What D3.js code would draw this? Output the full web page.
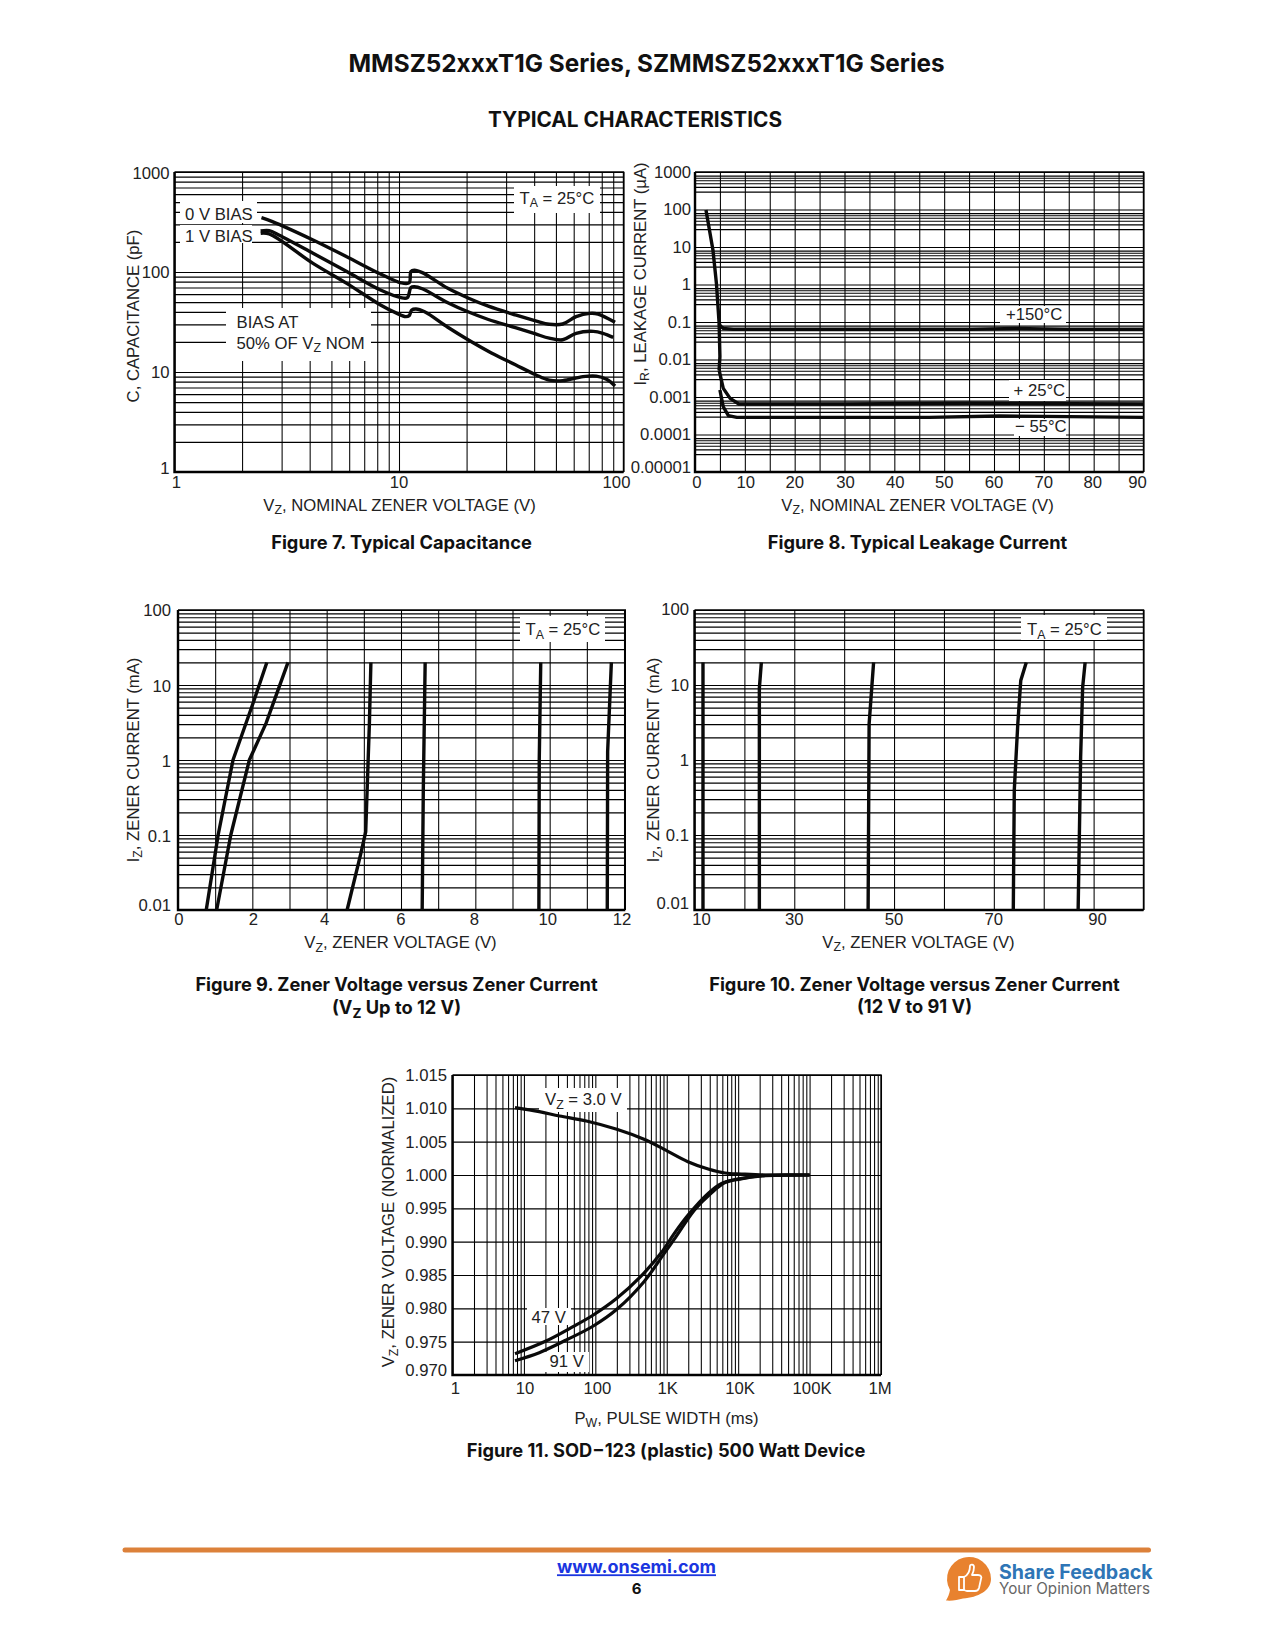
<!DOCTYPE html>
<html><head><meta charset="utf-8">
<script src="https://cdnjs.cloudflare.com/ajax/libs/d3/7.8.5/d3.min.js"></script>
<style>html,body{margin:0;background:#fff}svg{display:block}text{font-family:"Liberation Sans",Arial,sans-serif;fill:#222}.h{font-family:Inter,"Liberation Sans",sans-serif;font-weight:700;fill:#111}</style>
</head><body><svg id="c" width="1275" height="1650" xmlns="http://www.w3.org/2000/svg"></svg>
<script>
// ---- Figure 7: V (volts), C (pF)
const fig7V0x=[2.44,2.73,4.14,5.85,8.27,10.2,11.1,11.3,11.7,12.7,16.5,20.3,25,33,40.6,46.7,53.6,61.5,70.8,77,91.7];
const fig7V0y=[349,319,209,142,95.5,78,78,101,104,98.5,68.6,55,45.5,37.2,32.5,30,30.2,35.8,38.6,38,31.4];
const fig7V1x=[2.42,2.64,2.93,4.14,5.85,8.27,10.2,10.9,11.3,11.7,12.7,16.5,20.3,25,33,40.6,46.7,53.6,61.5,73.4,81,90];
const fig7V1y=[257,259,233,154,101,66,55.4,55.4,70,71.3,68,49.3,40,33.5,27.8,24,21.8,21,24.4,25.5,24.4,22.2];
const fig7V50x=[2.42,2.64,4.14,5.85,8.27,9.8,10.7,11.1,11.4,11.9,13,16.5,20.3,25.8,33,40.6,46.7,53.6,66,75.6,84,91.7];
const fig7V50y=[244,240,122,77,46.8,38.6,35.8,36.6,41.7,42.7,40,28,21,15.5,11.8,9.4,8.3,8.2,9,9.1,8.45,7.25];
// ---- Figure 8: V (volts), I (uA)
const fig8Steepx=[2.2,3.6,4.3,4.84,5.0,4.84];
const fig8Steepy=[97,8.3,1.07,0.092,0.012,0.0052];
const fig8P150x=[4.84,5.1,5.67,7.7,30,55,64.4,74.8,90];
const fig8P150y=[0.092,0.078,0.0678,0.0637,0.0637,0.0637,0.0678,0.0637,0.0637];
const fig8P25x=[4.84,5.67,7.05,8.8,30,55,75,90];
const fig8P25y=[0.0052,0.0017,0.00092,0.00065,0.00065,0.00068,0.00066,0.00065];
const fig8M55x=[5,5.67,6.7,8.4,47,61,75,90];
const fig8M55y=[0.00154,0.00055,0.000318,0.000287,0.000287,0.000312,0.0003,0.000287];
// ---- Figure 9: V, I (mA)
const fig9x=[[0.76,1.08,1.48,2.05,2.39],[1.04,1.42,1.92,2.37,2.96],[4.55,4.92,5.05,5.15,5.19],[6.57,6.6,6.65],[9.71,9.72,9.76],[11.55,11.56,11.66]];
const fig9y=[[0.01,0.1,1,6.3,20],[0.01,0.1,1,3.1,20],[0.01,0.057,0.11,3.1,20],[0.01,0.4,20],[0.01,1,20],[0.01,1.3,20]];
// ---- Figure 10: V, I (mA)
const fig10x=[[11.7,11.7,11.7],[23,23,23.4],[44.8,45,45.9],[73.9,74.1,74.8,75.4,76.5],[86.9,87.4,87.8,88.3]];
const fig10y=[[0.01,1,20],[0.01,9,20],[0.01,3,20],[0.01,0.4,3,11.5,20],[0.01,1.1,9.3,20]];
// ---- Figure 11: pulse width (ms), normalised VZ
const fig11V3x=[7.5,16.4,31.5,75,200,480,922,1976,3800,6540,11200,24200,100000];
const fig11V3y=[1.0101,1.0095,1.00885,1.0081,1.00685,1.00535,1.00385,1.002,1.0009,1.0003,1.00015,1.0,1.0];
const fig11V47x=[7.5,20.4,48.7,93.7,200,430,826,1276,2085,3800,5860,10000,21700,100000];
const fig11V47y=[0.9732,0.9751,0.97725,0.979,0.9815,0.98475,0.98825,0.99125,0.99425,0.99725,0.99875,0.99935,0.99985,1.0];
const fig11V91x=[7.5,16.4,39.2,93.7,200,480,922,1350,2450,4170,6540,11200,24200,100000];
const fig11V91y=[0.97215,0.97335,0.97525,0.97735,0.97985,0.984,0.98825,0.99075,0.99475,0.99725,0.99885,0.9995,0.99995,1.0];
// ---- tick lists
const decadeMinors=(a,b,ms=[1,2,3,4,5,6,7,8,9])=>{const o=[];for(let e=a;e<b;e++)for(const m of ms)o.push(+(m+"e"+e));o.push(+("1e"+b));return o;};
const fig7YTicks=[1000,100,10,1], fig7XTicks=[1,10,100];
const fig8YTicks=[1000,100,10,1,0.1,0.01,0.001,0.0001,0.00001], fig8XTicks=[0,10,20,30,40,50,60,70,80,90];
const fig8Minors=[1,3,4,5,6,7,8];
const fig9YTicks=[100,10,1,0.1,0.01], fig9XTicks=[0,2,4,6,8,10,12];
const fig10YTicks=[100,10,1,0.1,0.01], fig10XTicks=[10,30,50,70,90];
const fig11YTicks=[1.015,1.01,1.005,1,0.995,0.99,0.985,0.98,0.975,0.97], fig11XTicks=[1,10,100,1000,10000,100000,1000000];
const fig11XLabels=["1","10","100","1K","10K","100K","1M"];

const svg=d3.select("#c");
const FS=16.7;
function rich(sel,str,size){ // V_Z_ markup for subscripts
  const parts=str.split("_");let pend=0;
  parts.forEach((p,i)=>{if(!p)return;const sub=i%2==1;
    sel.append("tspan").attr("font-size",sub?size*0.74:size).attr("dy",(sub?3.5:0)+pend).text(p);
    pend=sub?-3.5:0;});
  return sel;
}
function text(x,y,s,opt={}){
  const size=opt.size||FS;
  const t=svg.append("text").attr("x",x).attr("y",y+0.35*size).attr("text-anchor",opt.anchor||"start").attr("font-size",size);
  if(opt.cls)t.attr("class",opt.cls);
  if(opt.rot!=null)t.attr("transform",`rotate(${opt.rot} ${x} ${y})`);
  rich(t,s,size);return t;
}
function chart(c){
  const g=svg.append("g");
  const xAxis=d3.axisBottom(c.x).tickValues(c.xGrid).tickSize(-(c.y.range()[0]-c.y.range()[1])).tickFormat("");
  const yAxis=d3.axisLeft(c.y).tickValues(c.yGrid).tickSize(-(c.x.range()[1]-c.x.range()[0])).tickFormat("");
  const gx=g.append("g").attr("transform",`translate(0,${c.y.range()[0]})`).call(xAxis);
  const gy=g.append("g").attr("transform",`translate(${c.x.range()[0]},0)`).call(yAxis);
  g.selectAll(".domain").remove();
  gx.selectAll("line").attr("stroke","#000").attr("stroke-width",1.05);
  gy.selectAll("line").attr("stroke","#000").attr("stroke-width",c.gw||1.2);
  const [l,r]=[c.left,c.right],[b,t]=[c.y.range()[0],c.y.range()[1]];
  g.append("path").attr("d",`M${l} ${t}H${r}V${b}`).attr("fill","none").attr("stroke","#000").attr("stroke-width",1.4);
  g.append("path").attr("d",`M${l} ${t}V${b}H${r}`).attr("fill","none").attr("stroke","#000").attr("stroke-width",2.4);
  (c.boxes||[]).forEach(q=>g.append("rect").attr("x",q[0]).attr("y",q[1]).attr("width",q[2]-q[0]).attr("height",q[3]-q[1]).attr("fill","#fff"));
  const line=d3.line().x(d=>c.x(d[0])).y(d=>c.y(d[1])).curve(c.curve||d3.curveLinear);
  c.series.forEach(s=>g.append("path").attr("d",line(d3.zip(s[0],s[1]))).attr("fill","none").attr("stroke","#0a0a0a")
     .attr("stroke-width",c.sw||3.4).attr("stroke-linejoin","round"));
  c.yTicks.forEach((v,i)=>text(c.yLabelRight,c.y(v)+c.yNudge(i),c.yFmt?c.yFmt(v):String(v),{anchor:"end"}));
  c.xTicks.forEach((v,i)=>text(c.x(v)+(c.xNudge?c.xNudge(i):0),c.xLabelY,c.xFmt?c.xFmt(v,i):String(v),{anchor:"middle"}));
  (c.notes||[]).forEach(n=>text(n[0],n[1],n[2]));
  text(c.xTitle[0],c.xTitle[1],c.xTitle[2],{anchor:"middle"});
  text(c.yTitle[0],c.yTitle[1],c.yTitle[2],{anchor:"middle",rot:-90});
}
const tail=(n,off,last)=>i=>i==n-1?last:off;

chart({left:174.5,right:623.5,
  x:d3.scaleLog().domain([1,100]).range([174.5,623.5]), y:d3.scaleLog().domain([1,1000]).range([472,172]),
  xGrid:decadeMinors(0,2), yGrid:decadeMinors(0,3), curve:d3.curveCatmullRom.alpha(0.5),
  series:[[fig7V0x,fig7V0y],[fig7V1x,fig7V1y],[fig7V50x,fig7V50y]],
  boxes:[[180,201,257,223],[180,225,252,243],[514,186,600,213],[226,308,371,361]],
  yTicks:fig7YTicks,xTicks:fig7XTicks,yLabelRight:169.5,yNudge:i=>[1,0,0,-4][i],xLabelY:482.5,xNudge:i=>[2,0,-7][i],
  notes:[[185,214,"0 V BIAS"],[185,236,"1 V BIAS"],[519.5,198,"T_A_ = 25°C"],[236.5,322,"BIAS AT"],[236.5,343,"50% OF V_Z_ NOM"]],
  xTitle:[399.5,505,"V_Z_, NOMINAL ZENER VOLTAGE (V)"], yTitle:[133.5,316,"C, CAPACITANCE (pF)"]});

chart({left:695,right:1143.5,gw:1.1,
  x:d3.scaleLinear().domain([0,90]).range([695,1143.5]), y:d3.scaleLog().domain([1e-5,1000]).range([472,172]),
  xGrid:d3.range(0,91,5), yGrid:decadeMinors(-5,3,fig8Minors), curve:d3.curveLinear,
  series:[[fig8Steepx,fig8Steepy],[fig8P150x,fig8P150y],[fig8P25x,fig8P25y],[fig8M55x,fig8M55y]],
  boxes:[[1000,306,1066,323],[1009,380,1066,401],[1014,419,1066,436]],
  yTicks:fig8YTicks,xTicks:fig8XTicks,yLabelRight:691,yNudge:tail(9,0,-5),xLabelY:482.5,xNudge:i=>[2,1,0,1,1,0,0,0,-1,-6][i],
  yFmt:v=>v<0.001?(v==1e-4?"0.0001":"0.00001"):String(v),
  notes:[[1006,314,"+150°C"],[1013.5,390.5,"+ 25°C"],[1015,426.5,"− 55°C"]],
  xTitle:[917.5,505,"V_Z_, NOMINAL ZENER VOLTAGE (V)"], yTitle:[640,274,"I_R_, LEAKAGE CURRENT (µA)"]});

chart({left:178,right:625.3,
  x:d3.scaleLinear().domain([0,12]).range([178,624]), y:d3.scaleLog().domain([0.01,100]).range([910,610]),
  xGrid:d3.range(0,13), yGrid:decadeMinors(-2,2),
  series:d3.zip(fig9x,fig9y),
  boxes:[[520,616,605,642]],
  yTicks:fig9YTicks,xTicks:fig9XTicks,yLabelRight:171,yNudge:i=>[0.3,1.3,1.3,1.3,-5][i],xLabelY:919.5,xNudge:i=>[1,1,-2,0,-1,-2,-2][i],
  notes:[[525.5,629.5,"T_A_ = 25°C"]],
  xTitle:[400.5,942.5,"V_Z_, ZENER VOLTAGE (V)"], yTitle:[133,760,"I_Z_, ZENER CURRENT (mA)"]});

chart({left:694.5,right:1143.5,
  x:d3.scaleLinear().domain([10,100]).range([694.5,1143.5]), y:d3.scaleLog().domain([0.01,100]).range([910,610]),
  xGrid:d3.range(10,101,10), yGrid:decadeMinors(-2,2),
  series:d3.zip(fig10x,fig10y),
  boxes:[[1021,615,1107,640]],
  yTicks:fig10YTicks,xTicks:fig10XTicks,yLabelRight:689,yNudge:i=>[-1,0,0,0,-7][i],xLabelY:919,xNudge:i=>[7,0,0,0,4][i],
  notes:[[1027,629.5,"T_A_ = 25°C"]],
  xTitle:[918.5,942,"V_Z_, ZENER VOLTAGE (V)"], yTitle:[653,760,"I_Z_, ZENER CURRENT (mA)"]});

chart({left:452.5,right:881,
  x:d3.scaleLog().domain([1,1e6]).range([452.5,881]), y:d3.scaleLinear().domain([0.97,1.015]).range([1375,1075]),
  xGrid:decadeMinors(0,6), yGrid:fig11YTicks, curve:d3.curveCatmullRom.alpha(0.5),
  series:[[fig11V3x,fig11V3y],[fig11V47x,fig11V47y],[fig11V91x,fig11V91y]],
  boxes:[[539,1088,627,1112],[527,1308,571,1325],[545,1352,589,1372]], sw:3.2,
  yTicks:fig11YTicks,yFmt:d3.format(".3f"),xTicks:fig11XTicks,xFmt:(v,i)=>fig11XLabels[i],
  yLabelRight:447,yNudge:tail(10,0,-5),xLabelY:1388,xNudge:i=>[3,1,2,1,2,2.5,-1][i],
  notes:[[545,1099.5,"V_Z_ = 3.0 V"],[531.5,1317,"47 V"],[549.5,1361,"91 V"]],
  xTitle:[666.5,1418,"P_W_, PULSE WIDTH (ms)"], yTitle:[388.5,1222,"V_Z_, ZENER VOLTAGE (NORMALIZED)"]});

// headings and captions
const h=(x,y,s,size)=>text(x,y,s,{anchor:"middle",size:size,cls:"h"});
h(646.5,63,"MMSZ52xxxT1G Series, SZMMSZ52xxxT1G Series",24.3);
h(635,120,"TYPICAL CHARACTERISTICS",20.8);
const CAP=18.25;
h(401.5,543,"Figure 7. Typical Capacitance",CAP);
h(917.5,543,"Figure 8. Typical Leakage Current",CAP);
h(396.5,985,"Figure 9. Zener Voltage versus Zener Current",CAP);
h(396.5,1008,"(V_Z_ Up to 12 V)",CAP);
h(914.5,984.5,"Figure 10. Zener Voltage versus Zener Current",CAP);
h(914.5,1006.5,"(12 V to 91 V)",CAP);
h(666,1451,"Figure 11. SOD−123 (plastic) 500 Watt Device",CAP);

// footer
svg.append("line").attr("x1",125).attr("x2",1148.5).attr("y1",1550).attr("y2",1550).attr("stroke","#DC813A").attr("stroke-width",5).attr("stroke-linecap","round");
text(636.5,1567,"www.onsemi.com",{anchor:"middle",size:18,cls:"h"}).attr("text-decoration","underline").style("fill","#1a35e0");
text(636.5,1589,"6",{anchor:"middle",size:15,cls:"h"});
const logo=svg.append("g").attr("transform","translate(2,2)");
logo.append("path").attr("d","M989 1577a22 22 0 1 0-41 11c-.6 4-2 7-4 10.5 6 .5 12-.5 17-2 15-1 28-8 28-19.5z").attr("fill","#E8822F");
logo.append("path").attr("d","M957 1575h5v13h-5zM962 1575c4-2 6-6 6-11 0-2 4-2 4 1 0 3-1 6-2 8h6c3 0 4 2 3 4l-2 9c-.5 2-2 3-4 3h-8c-1 0-2-.5-3-1")
  .attr("fill","none").attr("stroke","#fff").attr("stroke-width",1.8).attr("stroke-linejoin","round");
text(999,1572,"Share Feedback",{size:19.6,cls:"h"}).style("fill","#2E75B6");
text(999,1589,"Your Opinion Matters",{size:15.2,cls:"h"}).style("fill","#666").style("font-weight",400);
</script></body></html>
